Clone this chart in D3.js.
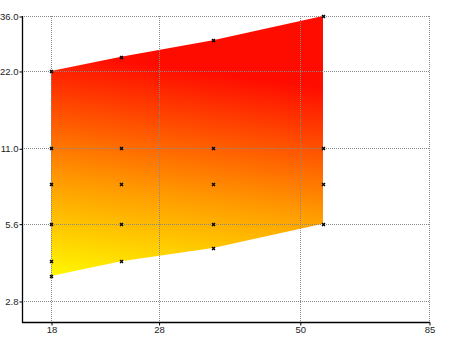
<!DOCTYPE html>
<html><head><meta charset="utf-8">
<script src="https://cdn.jsdelivr.net/npm/d3@7"></script>
<style>
html,body{margin:0;padding:0;background:#fff;}
svg{display:block;}
.tick text{font-family:"Liberation Sans",Arial,sans-serif;font-size:9.5px;fill:#222;}
</style></head>
<body>
<svg id="chart" width="450" height="337"></svg>
<script>
// ---- data ----
const xTicks = [18, 28, 50, 85];
const yTicks = [2.8, 5.6, 11.0, 22.0, 36.0];
const bandX = [18, 24, 35, 55];
const bandUpper = [22, 25, 29, 36];
const bandLower = [3.5, 4.0, 4.5, 5.6];
const markerX = [18,18,18,18,18,18, 24,24,24,24,24, 35,35,35,35,35, 55,55,55,55];
const markerY = [3.5,4.0,5.6,8.0,11.0,22.0, 4.0,5.6,8.0,11.0,25.0, 4.5,5.6,8.0,11.0,29.0, 5.6,8.0,11.0,36.0];

// ---- layout ----
const svg = d3.select("#chart");
const axisX0 = 22, axisY0 = 322, topY = 16;
const x = d3.scaleLog().domain([18, 85]).range([51, 429]);
const y = d3.scaleLog().domain([2.8, 36]).range([301, 16]);

// gradient
const defs = svg.append("defs");
const grad = defs.append("linearGradient").attr("id","g")
  .attr("gradientUnits","userSpaceOnUse")
  .attr("x1",51).attr("y1",283).attr("x2",82).attr("y2",55);
grad.append("stop").attr("offset","0").attr("stop-color","#ffff00");
grad.append("stop").attr("offset","0.45").attr("stop-color","#ff9a00");
grad.append("stop").attr("offset","1").attr("stop-color","#ff0c00");

// filled band
const band = bandX.map((v,i)=>({x:v, lo:bandLower[i], hi:bandUpper[i]}));
const area = d3.area().x(d=>x(d.x)).y0(d=>y(d.lo)).y1(d=>y(d.hi));
svg.append("path").datum(band).attr("d", area).attr("fill","url(#g)");

// grid
const grid = svg.append("g").attr("stroke","#888").attr("stroke-width",1)
  .attr("stroke-dasharray","1,1").attr("shape-rendering","crispEdges");
grid.selectAll("line.h").data(yTicks).join("line")
  .attr("x1", axisX0).attr("x2", x(85))
  .attr("y1", d=>Math.round(y(d))+0.5).attr("y2", d=>Math.round(y(d))+0.5);
grid.selectAll("line.v").data(xTicks).join("line")
  .attr("y1", topY).attr("y2", axisY0)
  .attr("x1", d=>Math.round(x(d))+0.5).attr("x2", d=>Math.round(x(d))+0.5);

// markers
svg.append("g").selectAll("path").data(markerX.map((v,i)=>[v, markerY[i]])).join("path")
  .attr("transform", d=>`translate(${Math.round(x(d[0]))+0.5},${Math.round(y(d[1]))+0.5})`)
  .attr("d","M-1.5,-1.5L1.5,1.5M-1.5,1.5L1.5,-1.5").attr("stroke","#000").attr("stroke-width",1.4).attr("fill","none");

// axes
const yAxis = d3.axisLeft(y).tickValues(yTicks).tickFormat(d3.format(".1f")).tickSize(3).tickPadding(1);
const gy = svg.append("g").attr("transform",`translate(${axisX0+0.5},0.5)`).call(yAxis);
gy.select(".domain").remove();
gy.selectAll(".tick line").attr("stroke","#000");

const xAxis = d3.axisBottom(x).tickValues(xTicks).tickFormat(d3.format("d")).tickSize(3).tickPadding(1);
const gx = svg.append("g").attr("transform",`translate(0.5,${axisY0+0.5})`).call(xAxis);
gx.select(".domain").remove();
gx.selectAll(".tick line").attr("stroke","#000");

svg.append("line").attr("x1",axisX0+0.5).attr("x2",axisX0+0.5).attr("y1",topY).attr("y2",axisY0+1)
  .attr("stroke","#000").attr("stroke-width",1.3);
svg.append("line").attr("x1",axisX0).attr("x2",x(85)+1).attr("y1",axisY0+0.5).attr("y2",axisY0+0.5)
  .attr("stroke","#000").attr("stroke-width",1.3);
</script>
</body></html>
